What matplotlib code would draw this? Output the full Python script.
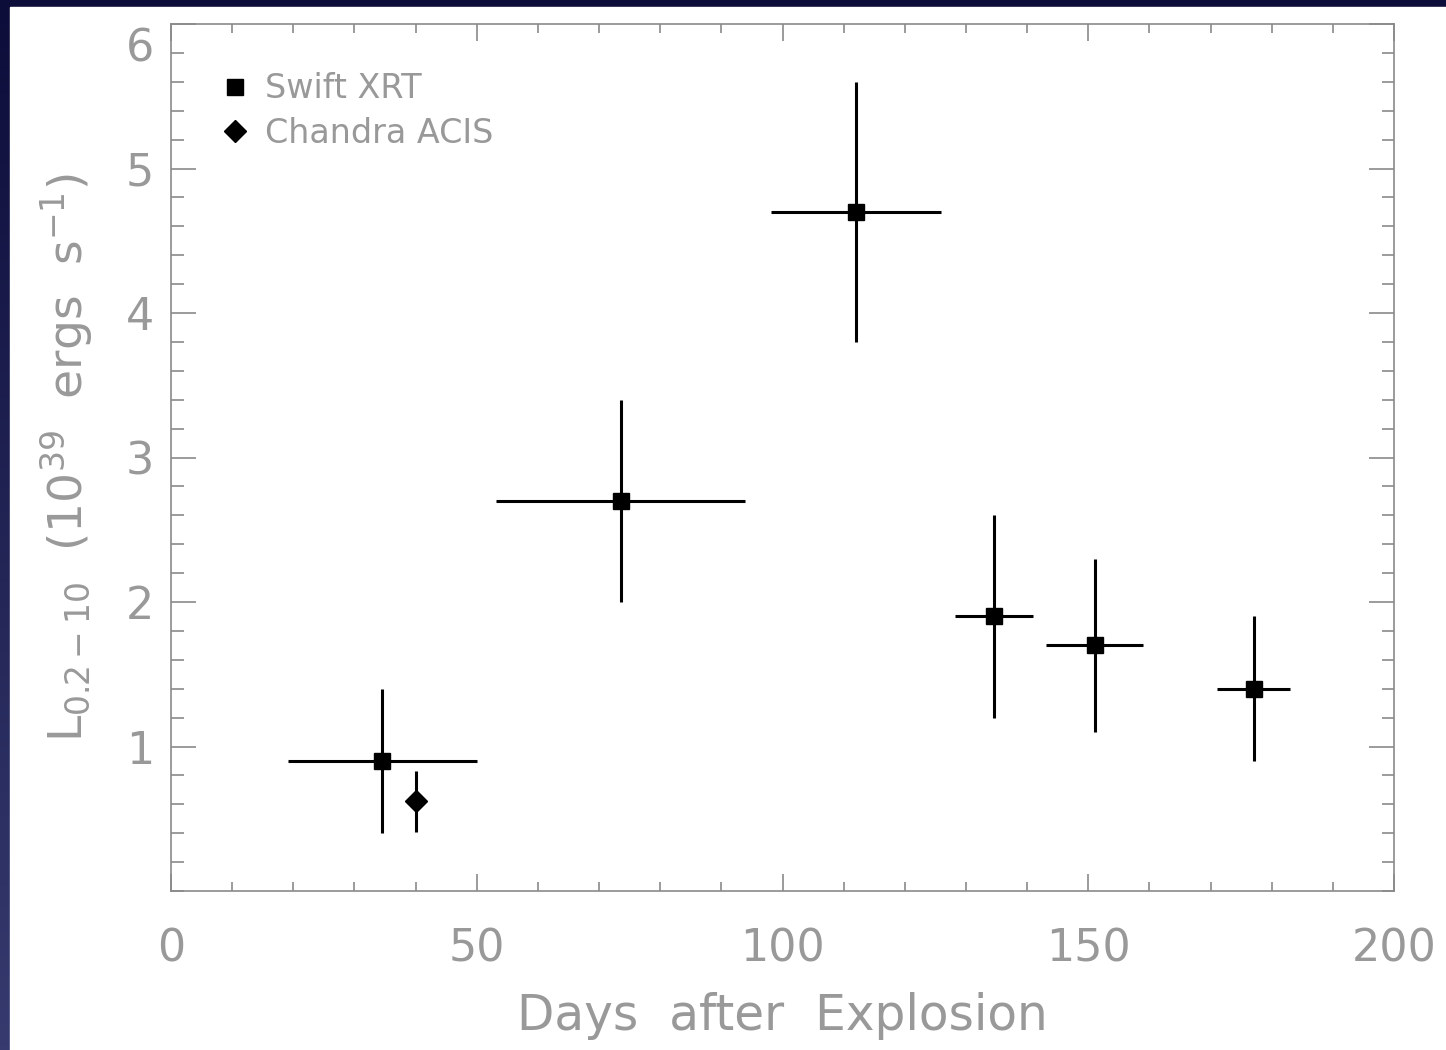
import numpy as np
import matplotlib
matplotlib.use("Agg")
import matplotlib.pyplot as plt
from matplotlib.colors import LinearSegmentedColormap
from matplotlib.patches import Rectangle
from matplotlib.lines import Line2D
from matplotlib.ticker import MultipleLocator
import matplotlib.transforms as mtransforms

# Swift XRT light curve (days, luminosity in 1e39 erg/s)
swift_days = [34.5, 73.6, 112.0, 134.6, 151.1, 177.1]
swift_days_lo = [19.1, 53.1, 98.1, 128.2, 143.1, 171.1]
swift_days_hi = [50.0, 93.9, 125.9, 141.0, 158.9, 183.0]
swift_lum = [0.9, 2.7, 4.7, 1.9, 1.7, 1.4]
swift_err = [0.5, 0.7, 0.9, 0.7, 0.6, 0.5]

# Chandra ACIS point
chandra_days = [40.1]
chandra_lum = [0.62]
chandra_err = [0.21]

GREY = "#8a8a8a"
TEXT = "#999999"

fig = plt.figure(figsize=(14.46, 10.5), dpi=100)

# slide background: dark blue gradient with white panel on top
bg = fig.add_axes([0, 0, 1, 1], zorder=-10)
cmap = LinearSegmentedColormap.from_list("slide", ["#363a6e", "#0d0d3a"])
bg.imshow(np.linspace(0, 1, 256).reshape(-1, 1), aspect="auto", cmap=cmap,
          origin="lower", extent=[0, 1, 0, 1])
bg.add_patch(Rectangle((10 / 1446, 0), 1, 1 - 7 / 1050, color="white",
                       transform=bg.transAxes))
bg.set_axis_off()

ax = fig.add_axes([171 / 1446, 1 - 891 / 1050, (1394 - 171) / 1446,
                   (891 - 24) / 1050])
ax.set_facecolor("none")

sx = np.array(swift_days)
xerr = [sx - np.array(swift_days_lo), np.array(swift_days_hi) - sx]
ax.errorbar(sx, swift_lum, xerr=xerr, yerr=swift_err, fmt="s", color="black",
            ms=11, elinewidth=2.2, capsize=0)
ax.errorbar(chandra_days, chandra_lum, yerr=chandra_err, fmt="D",
            color="black", ms=11, elinewidth=2.2, capsize=0)

ax.set_xlim(0, 200)
ax.set_ylim(0, 6)
ax.xaxis.set_major_locator(MultipleLocator(50))
ax.xaxis.set_minor_locator(MultipleLocator(10))
ax.yaxis.set_minor_locator(MultipleLocator(0.2))
ax.set_yticks([1, 2, 3, 4, 5, 6])

for s in ax.spines.values():
    s.set_color(GREY)
    s.set_linewidth(1.2)

ax.tick_params(axis="both", which="both", direction="in", top=True,
               right=True, color=GREY, width=1.2, labelcolor=TEXT)
ax.tick_params(axis="x", which="major", length=12, labelsize=32, pad=26)
ax.tick_params(axis="x", which="minor", length=6.5)
ax.tick_params(axis="y", which="major", length=18, labelsize=32, pad=12)
ax.tick_params(axis="y", which="minor", length=9)

# the top label sits a little below its tick
lab6 = ax.get_yticklabels()[-1]
lab6.set_transform(lab6.get_transform() + mtransforms.ScaledTranslation(
    0, -20 / 100, fig.dpi_scale_trans))

ax.set_xlabel("Days  after  Explosion", fontsize=35, color=TEXT, labelpad=16)
ax.set_ylabel(r"L$_{0.2-10}$  (10$^{39}$  ergs  s$^{-1}$)", fontsize=34,
              color=TEXT, labelpad=22)

handles = [Line2D([], [], marker="s", ls="none", color="black", ms=12),
           Line2D([], [], marker="D", ls="none", color="black", ms=11)]
ax.legend(handles, ["Swift XRT", "Chandra ACIS"], loc="upper left",
          bbox_to_anchor=(0.014, 0.979), frameon=False, fontsize=24,
          numpoints=1, handlelength=1.0, handletextpad=0.4,
          labelspacing=0.35, labelcolor=TEXT)

fig.savefig("out.png", dpi=100)
